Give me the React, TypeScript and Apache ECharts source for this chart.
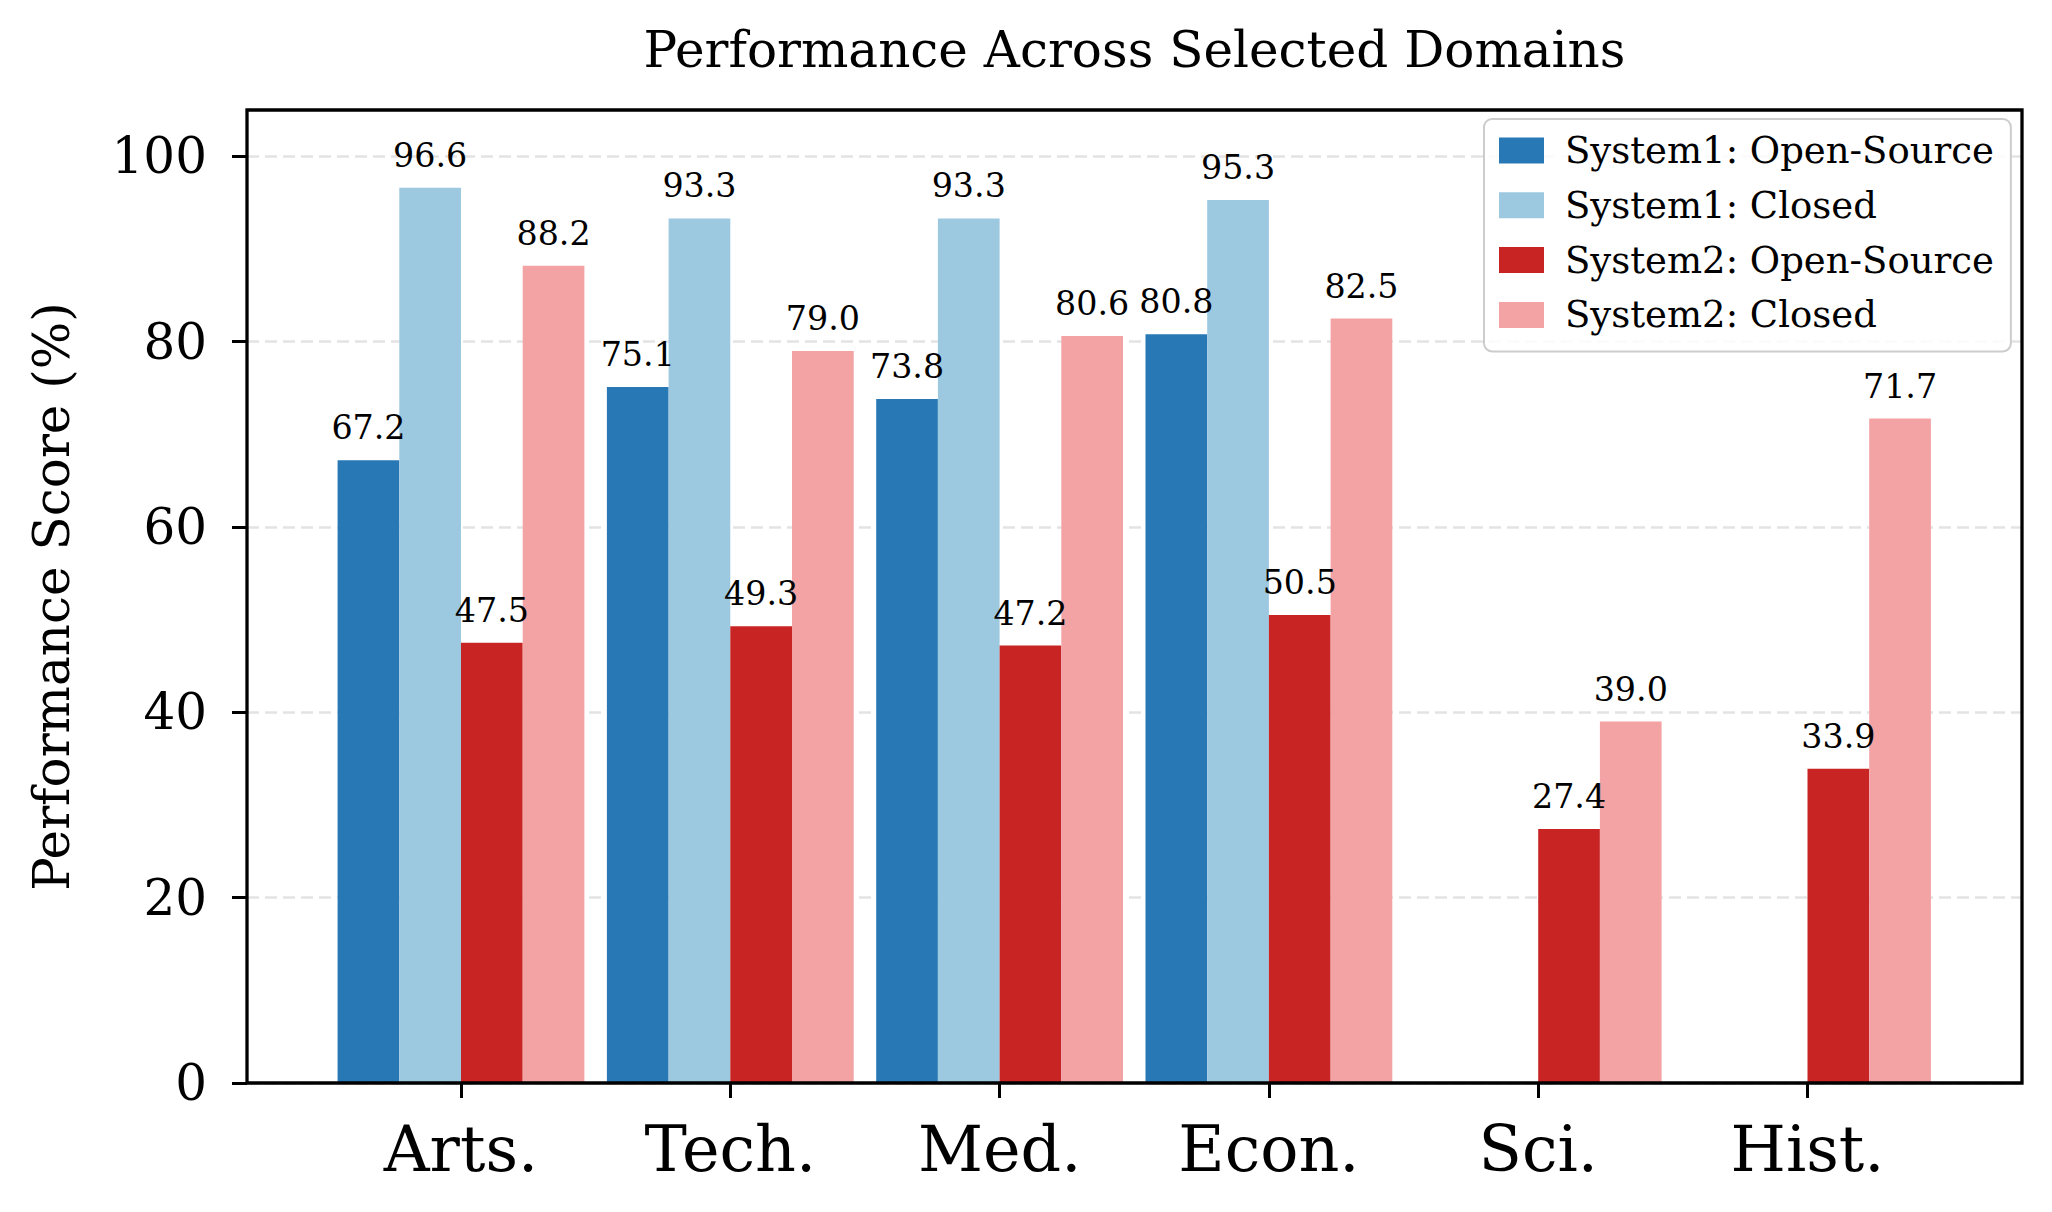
import React, { useEffect, useRef } from "react";
import * as echarts from "echarts";

const categories = ["Arts.", "Tech.", "Med.", "Econ.", "Sci.", "Hist."];
const seriesNames = [
  "System1: Open-Source",
  "System1: Closed",
  "System2: Open-Source",
  "System2: Closed",
];
const s1Open = [67.2, 75.1, 73.8, 80.8, null, null];
const s1Closed = [96.6, 93.3, 93.3, 95.3, null, null];
const s2Open = [47.5, 49.3, 47.2, 50.5, 27.4, 33.9];
const s2Closed = [88.2, 79.0, 80.6, 82.5, 39.0, 71.7];
const seriesValues = [s1Open, s1Closed, s2Open, s2Closed];
const colors = ["#2878b5", "#9cc8e0", "#c82423", "#f3a3a4"];
const yMax = 105;
const yTickMax = 100;
const yTickStep = 20;
const title = "Performance Across Selected Domains";
const yName = "Performance Score (%)";

const FONT = "'DejaVu Serif', 'Liberation Serif', serif";

export default function App() {
  const ref = useRef<HTMLDivElement>(null);
  useEffect(() => {
    if (!ref.current) return;
    const chart = echarts.init(ref.current, null, { renderer: "svg" });
    const W = 2052;
    const H = 1212;
    const plotL = 247;
    const plotR = 2022;
    const plotT = 110;
    const plotB = 1083;
    const pxPerUnit = (plotB - plotT) / yMax;
    const tickTop = plotB - pxPerUnit * yTickMax;
    const firstCenter = 461;
    const lastCenter = 1807.5;
    const band = (lastCenter - firstCenter) / (categories.length - 1);
    const barL = firstCenter - band / 2;
    const barR = lastCenter + band / 2;

    const option: any = {
      animation: false,
      backgroundColor: "#ffffff",
      textStyle: { fontFamily: FONT },
      graphic: [
        {
          type: "text",
          x: (plotL + plotR) / 2,
          y: 50,
          style: {
            text: title,
            fill: "#000",
            font: `50px ${FONT}`,
            textAlign: "center",
            textVerticalAlign: "middle",
          },
        },
      ],
      grid: [
        {
          left: plotL,
          right: W - plotR,
          top: plotT,
          bottom: H - plotB,
          show: true,
          borderColor: "#000",
          borderWidth: 3.3,
          backgroundColor: "transparent",
          z: 10,
        },
        {
          left: plotL,
          right: W - plotR,
          top: tickTop,
          bottom: H - plotB,
        },
        {
          left: barL,
          right: W - barR,
          top: plotT,
          bottom: H - plotB,
        },
      ],
      xAxis: [
        { type: "value", gridIndex: 0, min: 0, max: 1, show: false },
        { type: "value", gridIndex: 1, min: 0, max: 1, show: false },
        {
          type: "category",
          gridIndex: 2,
          data: categories,
          boundaryGap: true,
          axisLine: { show: false },
          axisTick: {
            show: true,
            alignWithLabel: true,
            length: 15,
            lineStyle: { color: "#000", width: 3 },
          },
          axisLabel: {
            fontSize: 63.5,
            color: "#000",
            fontFamily: FONT,
            margin: 34,
          },
          splitLine: { show: false },
        },
      ],
      yAxis: [
        {
          type: "value",
          gridIndex: 0,
          min: 0,
          max: yMax,
          name: yName,
          nameLocation: "middle",
          nameRotate: 90,
          nameGap: 170,
          nameTextStyle: { fontSize: 50, color: "#000", fontFamily: FONT },
          axisLine: { show: false },
          axisTick: { show: false },
          axisLabel: { show: false },
          splitLine: { show: false },
        },
        {
          type: "value",
          gridIndex: 1,
          min: 0,
          max: yTickMax,
          interval: yTickStep,
          axisLine: { show: false },
          axisTick: {
            show: true,
            length: 15,
            lineStyle: { color: "#000", width: 3 },
          },
          axisLabel: {
            fontSize: 50,
            color: "#000",
            fontFamily: FONT,
            margin: 40,
          },
          splitLine: {
            show: true,
            lineStyle: { color: "#e3e3e3", width: 2.5, type: [12, 6] },
          },
        },
        {
          type: "value",
          gridIndex: 2,
          min: 0,
          max: yMax,
          show: false,
        },
      ],
      legend: {
        orient: "vertical",
        left: 1484,
        top: 119,
        padding: [13, 17, 18, 15],
        itemWidth: 45,
        itemHeight: 26,
        itemGap: 17.8,
        backgroundColor: "rgba(255,255,255,0.85)",
        borderColor: "#cccccc",
        borderWidth: 2,
        borderRadius: 8,
        icon: "rect",
        textStyle: {
          fontSize: 37,
          lineHeight: 37,
          color: "#000",
          fontFamily: FONT,
          padding: [0, 0, 0, 16],
        },
        data: seriesNames,
      },
      series: seriesNames.map((name, i) => ({
        name,
        type: "bar",
        xAxisIndex: 2,
        yAxisIndex: 2,
        data: seriesValues[i],
        barWidth: 61.7,
        barGap: "0%",
        itemStyle: { color: colors[i] },
        label: {
          show: true,
          position: "top",
          distance: 16,
          fontSize: 33.3,
          color: "#000",
          fontFamily: FONT,
          formatter: (p: any) =>
            p.value == null ? "" : Number(p.value).toFixed(1),
        },
      })),
    };
    chart.setOption(option);
    return () => chart.dispose();
  }, []);
  return (
    <div
      ref={ref}
      style={{
        position: "fixed",
        left: 0,
        top: 0,
        width: 2052,
        height: 1212,
        background: "#fff",
      }}
    />
  );
}
